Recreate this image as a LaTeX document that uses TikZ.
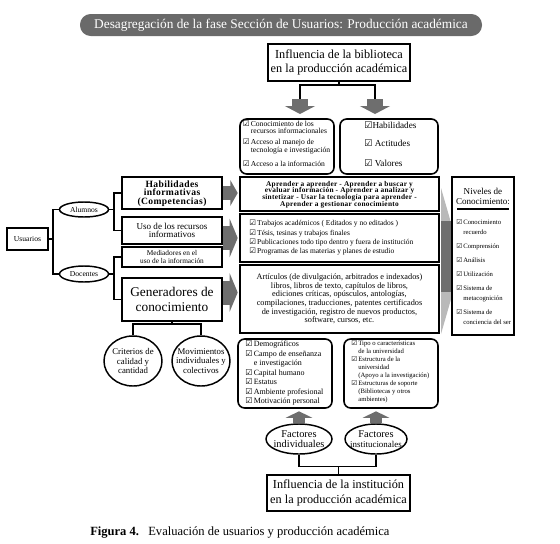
\documentclass[tikz,border=0pt]{standalone}
\usepackage{fontspec}
\setmainfont{Liberation Serif}
\newfontfamily\symf{DejaVu Sans}
\newfontfamily\widef[LetterSpace=4]{Liberation Serif}
\usetikzlibrary{arrows.meta,calc,shapes.geometric}
\definecolor{tg}{HTML}{6A6A6A}
\definecolor{ga}{HTML}{6E6E6E}
\newcommand{\cb}{{\symf\char"2611}}
\newcommand{\fsz}[2]{\fontsize{#1pt}{#2pt}\selectfont}
\newcommand{\bx}[7]{\node[#6, inner sep=0pt, minimum width={(#4-#2)*0.75pt}, minimum height={(#5-#3)*0.75pt}] (#1) at ({(#2+#4)/2},{(#3+#5)/2}) {#7};}
\newcommand{\el}[7]{\node[ell, minimum width={#4*0.75pt}, minimum height={#5*0.75pt}] (#1) at (#2,#3) {};
  \node[inner sep=0pt, align=center, #6] (#1t) at (#1.center) {#7};}
\begin{document}
\begin{tikzpicture}[x=0.75pt,y=-0.75pt,
  box/.style={draw, line width=1.2pt, fill=white, align=center},
  rbox/.style={draw, line width=1.2pt, fill=white, rounded corners=5pt},
  ell/.style={draw, ellipse, line width=1.1pt, fill=white, inner sep=0pt},
  conn/.style={line width=0.8pt},
  tx/.style={inner sep=0pt, align=left}]
\path[fill=white, use as bounding box] (0,0) rectangle (560,543);

% title
\node[fill=tg, text=white, rounded corners=8pt, minimum width=301.5pt, minimum height=16.5pt, inner sep=0pt, font=\fsz{10}{11}] (title) at (281,25) {Desagregación de la fase Sección de Usuarios: Producción académica};

% top box and its arrows
\bx{top}{268}{44}{410}{81}{box, font=\fsz{9.2}{10.8}}{Influencia de la biblioteca\\en la producción académica}
\coordinate (hj) at (339,85);
\coordinate (dA) at (300,99);
\coordinate (dB) at (375,99);
\draw[conn] (top.south) -- (hj);
\draw[conn] (dA) |- (hj) -| (dB);
\draw[ga, line width=12pt, -{Triangle[width=22.5pt,length=6pt]}] (dA) -- ++(0,15);
\draw[ga, line width=12pt, -{Triangle[width=22.5pt,length=6pt]}] (dB) -- ++(0,15);

% checkbox boxes
\bx{cbl}{240}{119}{334}{174}{rbox}{}
\bx{cbr}{340}{119}{438}{174}{rbox}{}
\node[tx, anchor=north west, font=\fsz{5.7}{4.7}] (cblt) at (242.5,120.5) {\begin{tabular}{@{}l@{\,}l@{}}\cb & Conocimiento de los\\ & recursos informacionales\\[3pt] \cb & Acceso al manejo de\\ & tecnología e investigación\\[5pt] \cb & Acceso a la información\end{tabular}};
\node[tx, anchor=west, font=\fsz{6.9}{8}] (hv1) at (364,125) {\cb Habilidades};
\node[tx, anchor=west, font=\fsz{6.9}{8}] (hv2) at (364,143) {\cb\ Actitudes};
\node[tx, anchor=west, font=\fsz{6.9}{8}] (hv3) at (364,163) {\cb\ Valores};

% left side
\bx{usu}{7}{228}{48}{250}{box, font=\fsz{5.7}{6}}{Usuarios}
\el{alu}{84}{209.5}{49}{15}{font=\fsz{5.7}{6}}{Alumnos}
\el{doc}{84}{274}{49}{16}{font=\fsz{5.7}{6}}{Docentes}
\coordinate (uj) at (53,239);
\draw[conn] (usu.east) -- (uj);
\draw[conn] (alu.west) -| (uj) |- (doc.west);

\bx{hab}{122}{177}{222}{209}{box}{}
\node[inner sep=0pt, align=center, font=\widef\bfseries\fsz{7.2}{6.2}] (habt) at ($(hab.center)+(0,0.5)$) {Habilidades\\informativas\\(Competencias)};
\bx{uso}{122}{217}{222}{244}{box, font=\fsz{6.8}{6.3}}{Uso de los recursos\\informativos}
\bx{med}{122}{247}{222}{267}{box, font=\fsz{5.5}{6.5}}{Mediadores en el\\uso de la información}
\bx{gen}{122}{278}{222}{321}{box, font=\fsz{10}{11}}{Generadores de\\conocimiento}
\coordinate (aj) at (114,209.5);
\draw[conn] (alu.east) -- (aj);
\draw[conn] (hab.west) -| (aj) |- (uso.west);
\coordinate (dj) at (114,274);
\draw[conn] (doc.east) -- (dj);
\draw[conn] (med.west) -| (dj) |- (gen.west);

\el{cri}{133}{361}{58}{50}{font=\fsz{6.6}{7}}{Criterios de\\calidad y\\cantidad}
\el{mov}{201}{361}{58}{50}{font=\fsz{6.6}{7}}{Movimientos\\individuales y\\colectivos}
\coordinate (gj) at (172,324);
\draw[conn] (gen.south) -- (gj);
\draw[conn] (cri.north) |- (gj) -| (mov.north);

% middle boxes
\bx{m1}{240}{177}{439}{211}{box}{}
\node[inner sep=0pt, align=center, font=\widef\bfseries\fsz{5.5}{5.1}] (m1t) at ($(m1.center)+(0,0.5)$) {Aprender a aprender - Aprender a buscar y\\evaluar información - Aprender a analizar y\\sintetizar - Usar la tecnología para aprender -\\Aprender a gestionar conocimiento};
\bx{m2}{240}{214}{439}{262}{box}{}
\node[tx, anchor=west, font=\fsz{5.6}{7}] (m2t) at (249,238) {\begin{tabular}{@{}l@{\,}l@{}}\cb & Trabajos académicos ( Editados y no editados )\\ \cb & Tésis, tesinas y trabajos finales\\ \cb & Publicaciones todo tipo dentro y fuera de institución\\ \cb & Programas de las materias y planes de estudio\end{tabular}};
\bx{m3}{240}{265}{439}{333}{box, font=\fsz{6.2}{6.5}}{Artículos (de divulgación, arbitrados e indexados)\\libros, libros de texto, capítulos de libros,\\ediciones críticas, opúsculos, antologías,\\compilaciones, traducciones, patentes certificados\\de investigación, registro de nuevos productos,\\software, cursos, etc.}

% gray arrows left -> middle
\draw[ga, line width=11pt, -{Triangle[width=19pt,length=5.5pt]}] (hab.east) -- ($(hab.east -| m1.west)+(-1.5,0)$);
\draw[ga, line width=18pt, -{Triangle[width=28.5pt,length=6pt]}] (uso.east |- m2.west) -- ($(m2.west)+(-1.5,0)$);
\draw[ga, line width=18pt, -{Triangle[width=28.5pt,length=6pt]}] ($(gen.east)+(0,-7)$) -- ($(m3.west)+(-1.5,-6.5)$);

% big arrow and levels box
\fill[gray!55] (441,188) -- (462,261) -- (441,334) -- cycle;
\fill[ga] (441,221) rectangle (453,292);
\bx{niv}{452}{177}{514}{335}{box}{}
\node[inner sep=0pt, align=center, font=\fsz{6.8}{7.5}] (nivh) at (483,196) {Niveles de\\Conocimiento:};
\draw[line width=1pt] (457,209) -- (509,209);
\node[tx, anchor=north west, font=\fsz{5}{7.5}] (nivt) at (456,217.5) {\begin{tabular}{@{}l@{\,}l@{}}\cb & Conocimiento\\ & recuerdo\\[3pt] \cb & Comprensión\\[3pt] \cb & Análisis\\[3pt] \cb & Utilización\\[3pt] \cb & Sistema de\\ & metacognición\\[3pt] \cb & Sistema de\\ & conciencia del ser\end{tabular}};

% bottom factor boxes
\bx{dem}{238}{339}{332}{408}{rbox}{}
\node[tx, anchor=north west, font=\fsz{6}{7.1}] (demt) at (245,340) {\begin{tabular}{@{}l@{\,}l@{}}\cb & Demográficos\\ \cb & Campo de enseñanza\\ & e investigación\\ \cb & Capital humano\\ \cb & Estatus\\ \cb & Ambiente profesional\\ \cb & Motivación personal\end{tabular}};
\bx{tip}{344}{339}{438}{408}{rbox}{}
\node[tx, anchor=north west, font=\fsz{5}{6}] (tipt) at (351,340) {\begin{tabular}{@{}l@{\,}l@{}}\cb & Tipo o características\\ & de la universidad\\ \cb & Estructura de la\\ & universidad\\ & (Apoyo a la investigación)\\ \cb & Estructuras de soporte\\ & (Bibliotecas y otros\\ & ambientes)\end{tabular}};

\el{fi}{299}{439}{66}{30}{font=\fsz{7.8}{8}}{Factores\\individuales}
\el{fs}{376}{439}{62}{30}{font=\fsz{7.8}{8}}{Factores\\{\fsz{6.7}{8}institucionales}}
\draw[ga, line width=9pt, -{Triangle[width=20pt,length=5pt]}] (fi.north) -- ++(0,-12);
\draw[ga, line width=9pt, -{Triangle[width=20pt,length=5pt]}] (fs.north) -- ++(0,-12);

\bx{bot}{267}{475}{410}{511}{box, font=\fsz{9.2}{10.8}}{Influencia de la institución\\en la producción académica}
\path (bot.north) ++(0,-8) coordinate (bj);
\draw[conn] (fi.south) |- (bj) -| (fs.south);
\draw[conn] (bj) -- (bot.north);

% caption
\node[anchor=west, inner sep=0pt, font=\fsz{9.4}{10}] (cap) at (90,533) {\textbf{Figura 4.}\hspace{7pt}Evaluación de usuarios y producción académica};
\end{tikzpicture}
\end{document}
